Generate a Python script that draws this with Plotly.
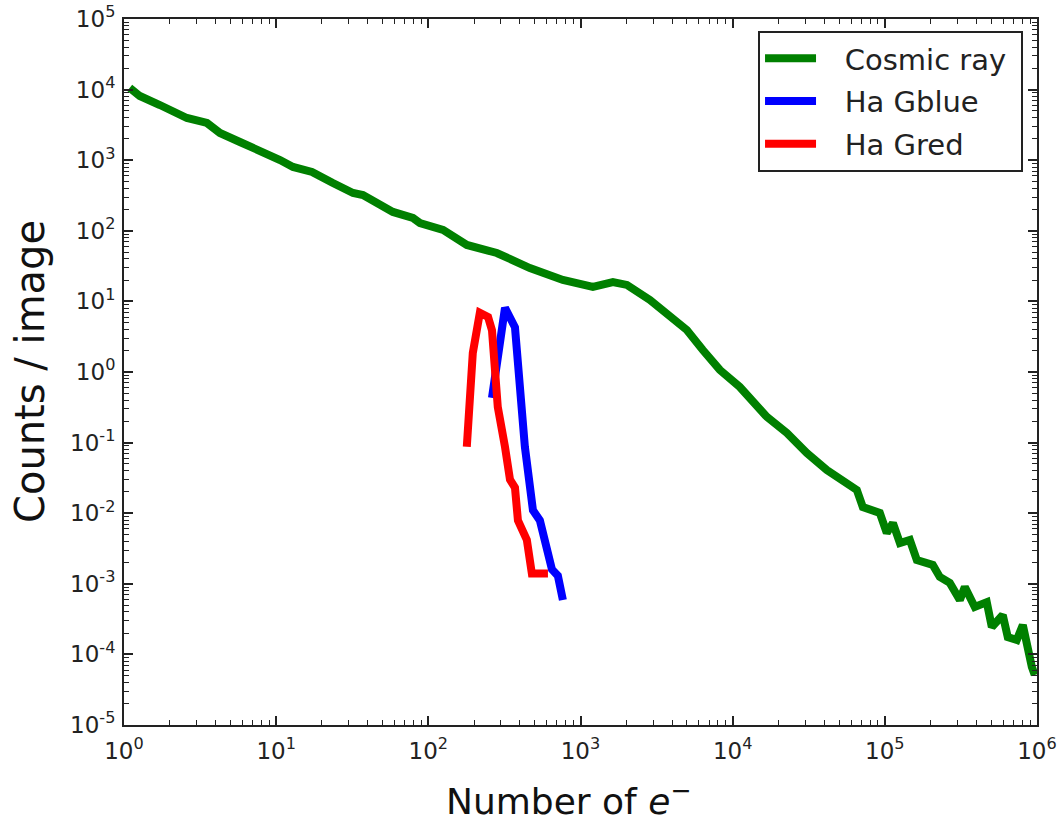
import plotly.graph_objects as go

# ---- data ----
cosmic_x = [1.09, 1.27, 1.72, 2.59, 3.51, 4.27, 5.78, 7.83, 10.6, 12.9, 17.2, 23.6, 32.0, 37.2,
            58.5, 79.2, 88.1, 125, 179, 282, 465, 766, 947, 1206, 1633, 2019, 2858, 3867, 5000,
            6368, 8240, 11140, 14420, 16790, 22710, 30730, 41590, 52970, 65460, 71680, 92700,
            103000, 113000, 125600, 146000, 162300, 206600, 229700, 267300, 311000, 335500,
            390000, 467700, 504700, 595700, 642700, 736200, 807000, 857000, 924700, 966000]
cosmic_y = [10540, 8110, 6050, 3960, 3365, 2430, 1810, 1395, 1007, 802, 681, 475, 343, 321,
            185, 152, 129, 103, 63, 48.5, 29.7, 20.1, 18.2, 16.0, 18.8, 17.1, 10.5, 6.4, 3.94,
            2.05, 1.07, 0.614, 0.319, 0.231, 0.137, 0.0713, 0.0409, 0.0295, 0.0213, 0.0122, 0.0101,
            0.00525, 0.00726, 0.00378, 0.00417, 0.00217, 0.00185, 0.00125, 0.00103, 0.00059, 0.00090,
            0.00047, 0.00055, 0.000244, 0.000361, 0.000176, 0.000160, 0.000261, 0.000127, 0.0000664, 0.0000511]

gblue_x = [262, 286, 319, 371, 400, 431, 487, 541, 649, 710, 766]
gblue_y = [0.43, 1.86, 8.1, 4.3, 0.78, 0.087, 0.011, 0.0079, 0.0016, 0.0013, 0.00059]

gred_x = [179, 196, 218, 247, 262, 286, 319, 344, 371, 388, 444, 479, 611]
gred_y = [0.087, 1.86, 6.9, 6.0, 3.9, 0.32, 0.087, 0.03, 0.023, 0.0079, 0.0042, 0.0014, 0.0014]

series_names = ["Cosmic ray", "Ha Gblue", "Ha Gred"]
series_colors = ["#008000", "#0000ff", "#ff0000"]

x_tickvals = [1, 10, 100, 1000, 10000, 100000, 1000000]
x_ticktext = ["10<sup>0</sup>", "10<sup>1</sup>", "10<sup>2</sup>", "10<sup>3</sup>",
              "10<sup>4</sup>", "10<sup>5</sup>", "10<sup>6</sup>"]
y_tickvals = [1e-5, 1e-4, 1e-3, 1e-2, 1e-1, 1, 10, 100, 1000, 10000, 100000]
y_ticktext = ["10<sup>-5</sup>", "10<sup>-4</sup>", "10<sup>-3</sup>", "10<sup>-2</sup>",
              "10<sup>-1</sup>", "10<sup>0</sup>", "10<sup>1</sup>", "10<sup>2</sup>",
              "10<sup>3</sup>", "10<sup>4</sup>", "10<sup>5</sup>"]

x_title = "Number of <i>e</i><sup>−</sup>"
y_title = "Counts / image"

fig = go.Figure()
for name, xs, ys, col in zip(series_names,
                             [cosmic_x, gblue_x, gred_x],
                             [cosmic_y, gblue_y, gred_y],
                             series_colors):
    fig.add_trace(go.Scatter(x=xs, y=ys, mode="lines",
                             name="\u2002 " + name + "\u00a0", legendgroup=name,
                             line=dict(color=col, width=8)))

axis_common = dict(
    type="log", showgrid=False, zeroline=False, automargin=False,
    showline=True, linecolor="#222222", linewidth=2, mirror="allticks",
    ticks="inside", ticklen=9, tickwidth=1.5, tickcolor="#222222",
    minor=dict(ticks="inside", ticklen=5, tickwidth=1, tickcolor="#222222", dtick="D1", showgrid=False),
    tickfont=dict(family="DejaVu Sans", size=23, color="#222222"),
)

fig.update_xaxes(range=[0, 6], tickvals=x_tickvals, ticktext=x_ticktext,
                 ticklabelstandoff=4, **axis_common)
fig.update_yaxes(range=[-5, 5], tickvals=y_tickvals, ticktext=y_ticktext,
                 ticklabelstandoff=2, **axis_common)

fig.add_annotation(text=y_title, xref="paper", yref="paper",
                   x=(30 - 124) / 913, y=0.5, xanchor="center", yanchor="middle",
                   textangle=-90, showarrow=False,
                   font=dict(family="DejaVu Sans", size=40, color="#111111"))
fig.add_annotation(text=x_title, xref="paper", yref="paper",
                   x=(568 - 124) / 913, y=(725 - 774) / 706, xanchor="center", yanchor="top",
                   showarrow=False,
                   font=dict(family="DejaVu Sans", size=36, color="#111111"))

fig.update_layout(
    width=1059, height=821,
    margin=dict(l=124, r=22, t=19, b=96),
    paper_bgcolor="white", plot_bgcolor="white",
    font=dict(family="DejaVu Sans", color="#222222"),
    legend=dict(x=0.9847, y=0.983, xanchor="right", yanchor="top",
                bgcolor="white", bordercolor="#222222", borderwidth=2,
                itemwidth=51,
                font=dict(family="DejaVu Sans", size=29, color="#222222"),
                tracegroupgap=2),
)

fig.write_html("out.html")
